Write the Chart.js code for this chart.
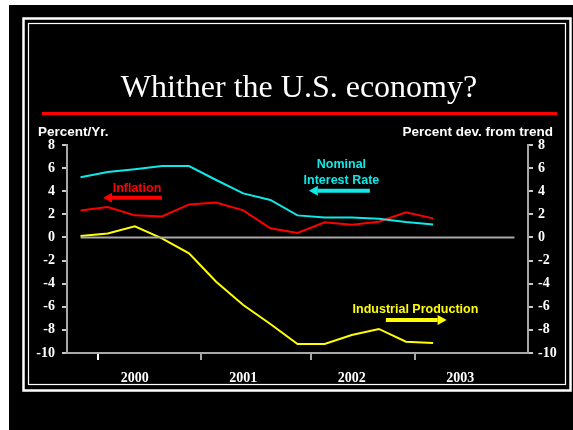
<!DOCTYPE html>
<html>
<head>
<meta charset="utf-8">
<script src="https://cdn.jsdelivr.net/npm/chart.js@4/dist/chart.umd.min.js"></script>
<style>
html,body{margin:0;padding:0;background:#fff;}
canvas{display:block;}
</style>
</head>
<body>
<canvas id="c" width="573" height="430"></canvas>
<script>
// ---- data (quarterly observations, index 0..13) ----
const quarterIndex = [0,1,2,3,4,5,6,7,8,9,10,11,12,13];
const nominalRate  = [5.2,5.66,5.9,6.18,6.18,4.97,3.81,3.24,1.91,1.72,1.72,1.62,1.33,1.13];
const inflation    = [2.34,2.63,1.91,1.82,2.86,3.03,2.34,0.79,0.38,1.31,1.1,1.36,2.17,1.65];
const industrialProd = [0.12,0.35,0.96,-0.08,-1.38,-3.83,-5.85,-7.49,-9.22,-9.22,-8.44,-7.92,-9.02,-9.13];
const yearLabels   = ['2000','2001','2002','2003'];
const yearCenters  = [2,6,10,14];
const yearTicks    = [0.64,4.45,8.49,12.33];
const zeroLineSpan = [0,16];

const toPts = arr => arr.map((v,i)=>({x:quarterIndex[i], y:v}));

const GREY = '#a8a8a8';

function arrow(ctx, x1, x2, y, color){
  const dir = x2 > x1 ? 1 : -1;
  const head = 9, half = 5;
  ctx.save();
  ctx.strokeStyle = color; ctx.fillStyle = color; ctx.lineWidth = 4;
  ctx.beginPath(); ctx.moveTo(x1, y); ctx.lineTo(x2 - dir*head, y); ctx.stroke();
  ctx.beginPath(); ctx.moveTo(x2, y); ctx.lineTo(x2 - dir*head, y - half); ctx.lineTo(x2 - dir*head, y + half); ctx.closePath(); ctx.fill();
  ctx.restore();
}

const slidePlugin = {
  id: 'slide',
  beforeDraw(chart){
    const ctx = chart.ctx;
    ctx.save();
    ctx.fillStyle = '#ffffff'; ctx.fillRect(0,0,573,430);
    ctx.fillStyle = '#000000'; ctx.fillRect(9,5,564,425);
    ctx.strokeStyle = '#ffffff';
    ctx.lineWidth = 2.5; ctx.strokeRect(23.5,18.5,547,372);
    ctx.lineWidth = 1.2; ctx.strokeRect(28.5,23.5,537,361);
    ctx.fillStyle = '#ffffff';
    ctx.font = '32px "Liberation Serif"';
    ctx.textAlign = 'center'; ctx.textBaseline = 'alphabetic';
    ctx.fillText('Whither the U.S. economy?', 299, 97);
    ctx.fillStyle = '#ff0000'; ctx.fillRect(42,112,515,3);
    ctx.fillStyle = '#ffffff';
    ctx.font = 'bold 13.5px "Liberation Sans"';
    ctx.textBaseline = 'middle';
    ctx.textAlign = 'left'; ctx.fillText('Percent/Yr.', 38, 132.5);
    ctx.textAlign = 'right'; ctx.fillText('Percent dev. from trend', 553, 132.5);
    ctx.restore();
  },
  afterDatasetsDraw(chart){
    const ctx = chart.ctx, xs = chart.scales.x, ys = chart.scales.y;
    const X = v => xs.getPixelForValue(v), Y = v => ys.getPixelForValue(v);
    ctx.save();
    ctx.font = 'bold 12.5px "Liberation Sans"';
    ctx.textAlign = 'center'; ctx.textBaseline = 'middle';
    ctx.fillStyle = '#ff0000';
    ctx.fillText('Inflation', X(2.08), Y(4.27));
    arrow(ctx, X(3.0), X(0.83), Y(3.44), '#ff0000');
    ctx.fillStyle = '#10e8e8';
    ctx.fillText('Nominal', X(9.62), Y(6.27));
    ctx.fillText('Interest Rate', X(9.62), Y(4.9));
    arrow(ctx, X(10.67), X(8.42), Y(4.04), '#10e8e8');
    ctx.fillStyle = '#ffff00';
    ctx.fillText('Industrial Production', X(12.35), Y(-6.28));
    arrow(ctx, X(11.26), X(13.5), Y(-7.15), '#ffff00');
    ctx.restore();
  }
};

const yTickFont = {family: '"Liberation Serif"', size: 14, weight: 'bold'};

new Chart(document.getElementById('c'), {
  type: 'line',
  data: {
    datasets: [
      {data: zeroLineSpan.map(x=>({x, y:0})), borderColor: GREY, borderWidth: 2, pointRadius: 0},
      {data: toPts(industrialProd), borderColor: '#ffff00', borderWidth: 2, pointRadius: 0},
      {data: toPts(nominalRate), borderColor: '#10e8e8', borderWidth: 2, pointRadius: 0},
      {data: toPts(inflation), borderColor: '#ff0000', borderWidth: 2, pointRadius: 0}
    ]
  },
  options: {
    responsive: false,
    devicePixelRatio: 1,
    animation: false,
    layout: {padding: {top: 145, left: 0, right: 0, bottom: 0}},
    plugins: {legend: {display: false}, tooltip: {enabled: false}},
    elements: {line: {tension: 0}},
    scales: {
      x: {
        type: 'linear', position: 'bottom', weight: 0, min: -0.5, max: 16.5,
        afterBuildTicks: s => { s.ticks = yearTicks.map(v=>({value:v})); },
        afterFit: s => { s.height = 8; },
        ticks: {display: false},
        grid: {drawOnChartArea: false, drawTicks: true, tickLength: 7, lineWidth: 2,
               color: c => c.index === 0 ? '#ffffff' : GREY},
        border: {display: true, color: GREY, width: 2}
      },
      xy: {
        type: 'linear', position: 'bottom', weight: 1, min: -0.5, max: 16.5,
        afterBuildTicks: s => { s.ticks = yearCenters.map(v=>({value:v})); },
        afterFit: s => { s.height = 69; },
        ticks: {color: '#ffffff', font: yTickFont, padding: 1, maxRotation: 0, autoSkip: false,
                callback: (v, i) => yearLabels[i]},
        grid: {display: false},
        border: {display: false}
      },
      y: {
        position: 'left', min: -10, max: 8,
        afterFit: s => { s.width = 67; },
        ticks: {stepSize: 2, color: '#ffffff', font: yTickFont, padding: 7},
        grid: {drawOnChartArea: false, drawTicks: true, tickLength: 5, color: '#c8c8c8', lineWidth: 2},
        border: {display: true, color: GREY, width: 2}
      },
      y2: {
        position: 'right', min: -10, max: 8,
        afterFit: s => { s.width = 45; },
        ticks: {stepSize: 2, color: '#ffffff', font: yTickFont, padding: 5},
        grid: {drawOnChartArea: false, drawTicks: true, tickLength: 5, color: '#c8c8c8', lineWidth: 2},
        border: {display: true, color: GREY, width: 2}
      }
    }
  },
  plugins: [slidePlugin]
});
</script>
</body>
</html>
